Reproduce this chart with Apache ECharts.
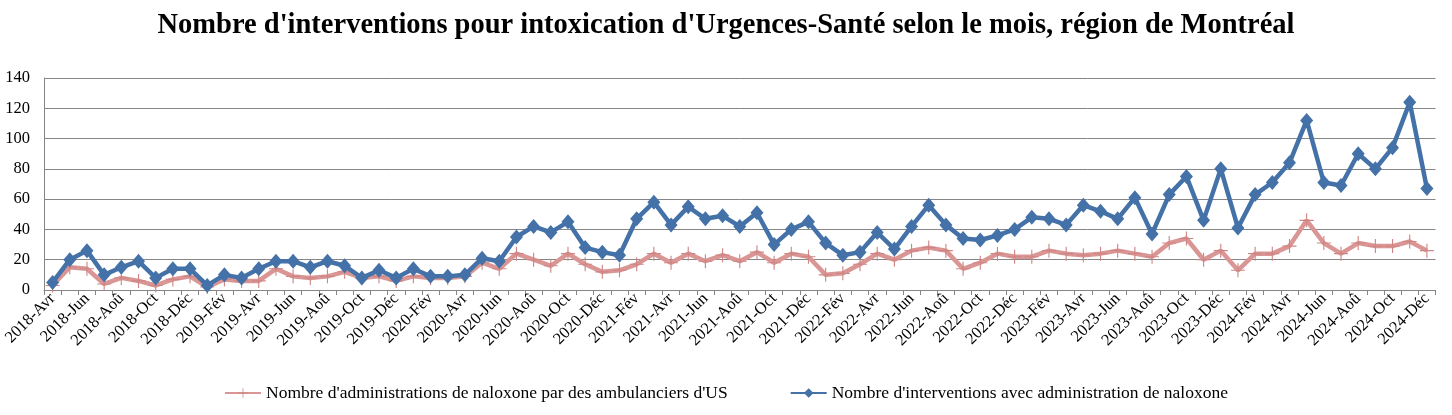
<!DOCTYPE html>
<html>
<head>
<meta charset="utf-8">
<script src="https://cdn.jsdelivr.net/npm/echarts@6/dist/echarts.min.js"></script>
<style>
html,body{margin:0;padding:0;background:#fff;}
#c{width:1452px;height:415px;}
</style>
</head>
<body>
<div id="c"></div>
<script>
const years = [2018, 2019, 2020, 2021, 2022, 2023, 2024];
const monthNames = ['Jan','Fév','Mar','Avr','Mai','Jun','Jul','Aoû','Sep','Oct','Nov','Déc'];
const startMonthIndex = 3; // 2018-Avr

const yTicks = [0, 20, 40, 60, 80, 100, 120, 140];

const seriesNames = [
  "Nombre d'administrations de naloxone par des ambulanciers d'US",
  "Nombre d'interventions avec administration de naloxone"
];

const naloxoneAdministrations = [
  3,15,14,4,8,6,3,7,9,2,
  7,6,6,14,9,8,9,12,8,9,
  6,9,8,8,9,18,14,24,20,16,
  24,17,12,13,17,24,18,24,19,23,
  19,25,18,24,22,10,11,17,24,20,
  26,28,26,14,18,24,22,22,26,24,
  23,24,26,24,22,31,34,20,26,13,
  24,24,29,46,31,24,31,29,29,32,
  26
];

const interventions = [
  5,20,26,10,15,19,8,14,14,3,
  10,8,14,19,19,15,19,16,8,13,
  8,14,9,9,10,21,19,35,42,38,
  45,28,25,23,47,58,43,55,47,49,
  42,51,30,40,45,31,23,25,38,27,
  42,56,43,34,33,36,40,48,47,43,
  56,52,47,61,37,63,75,46,80,41,
  63,71,84,112,71,69,90,80,94,124,
  67
];

const categories = [];
years.forEach((y, yi) => {
  monthNames.forEach((m, mi) => {
    if (yi === 0 && mi < startMonthIndex) return;
    categories.push(y + '-' + m);
  });
});

const chart = echarts.init(document.getElementById('c'), null, {renderer: 'canvas'});
const serif = 'Liberation Serif';
const plusPath = 'path://M9.2,0 h1.6 v9.2 h9.2 v1.6 h-9.2 v9.2 h-1.6 v-9.2 h-9.2 v-1.6 h9.2 Z';

chart.setOption({
  animation: false,
  backgroundColor: '#ffffff',
  title: {
    text: "Nombre d'interventions pour intoxication d'Urgences-Santé selon le mois, région de Montréal",
    left: 'center',
    top: 6,
    textStyle: {fontFamily: serif, fontWeight: 'bold', fontSize: 28.5, color: '#000'}
  },
  legend: {
    bottom: 8,
    left: 'center',
    itemGap: 62,
    itemWidth: 36,
    itemHeight: 12,
    textStyle: {fontFamily: serif, fontSize: 17.5, color: '#000'},
    data: seriesNames
  },
  grid: {left: 41.5, right: 16.5, top: 78, bottom: 125, containLabel: false},
  xAxis: {
    type: 'category',
    data: categories,
    boundaryGap: true,
    axisLine: {lineStyle: {color: '#868686', width: 1}},
    axisTick: {show: true, interval: 0, length: 5, lineStyle: {color: '#868686'}},
    axisLabel: {interval: 1, rotate: 45, fontFamily: serif, fontSize: 16.5, color: '#000', margin: 6}
  },
  yAxis: {
    type: 'value',
    min: yTicks[0],
    max: yTicks[yTicks.length - 1],
    interval: 20,
    axisLine: {show: true, lineStyle: {color: '#868686', width: 1}},
    axisTick: {show: false},
    splitLine: {lineStyle: {color: '#868686', width: 1}},
    axisLabel: {fontFamily: serif, fontSize: 16.5, color: '#000', margin: 14}
  },
  series: [
    {
      name: seriesNames[0],
      type: 'line',
      data: naloxoneAdministrations,
      symbol: plusPath,
      symbolSize: 14,
      showAllSymbol: true,
      lineStyle: {color: '#D99694', width: 4.5},
      itemStyle: {color: '#CF8583'},
      z: 2
    },
    {
      name: seriesNames[1],
      type: 'line',
      data: interventions,
      symbol: 'diamond',
      symbolSize: [13, 15],
      showAllSymbol: true,
      lineStyle: {color: '#4471A7', width: 4.5},
      itemStyle: {color: '#4471A7'},
      z: 3
    }
  ]
});
</script>
</body>
</html>
